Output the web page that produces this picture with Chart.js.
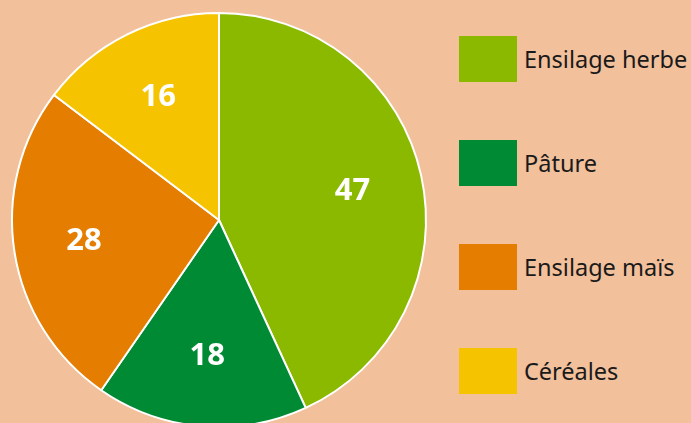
<!DOCTYPE html>
<html lang="fr">
<head>
<meta charset="utf-8">
<script src="https://cdn.jsdelivr.net/npm/chart.js@4/dist/chart.umd.min.js"></script>
<style>
  html, body { margin: 0; padding: 0; background: #f2c09a; }
  #wrap { position: relative; width: 691px; height: 423px; overflow: hidden; background: #f2c09a; }
  #box { position: absolute; left: 0; top: 0; width: 438px; height: 423px; }
  #leg { position: absolute; left: 459px; top: 36px; font-family: "Noto Sans", "Open Sans", sans-serif; }
  #leg .it { position: absolute; left: 0; height: 46px; display: flex; align-items: center; white-space: nowrap; }
  #leg .sq { width: 58px; height: 46px; margin-right: 7px; flex: none; }
  #leg .tx { font-size: 23.5px; color: #1a1a1a; }
</style>
</head>
<body>
<div id="wrap">
  <div id="box"><canvas id="g-pie"></canvas></div>
  <div id="leg"></div>
</div>
<script>
(function () {
  "use strict";
  var $ = function (id) { return document.getElementById(id); };

  // Données
  var categories = ["Ensilage herbe", "Pâture", "Ensilage maïs", "Céréales"];
  var valeurs = [47, 18, 28, 16];
  var couleurs = ["#8bb900", "#008a33", "#e47d00", "#f6c300"];

  // Étiquettes blanches au milieu des parts
  var etiquettes = {
    id: "etiquettes",
    afterDatasetsDraw: function (chart) {
      var ctx = chart.ctx, meta = chart.getDatasetMeta(0);
      ctx.save();
      ctx.fillStyle = "#fff";
      ctx.font = "bold 31px 'Noto Sans', 'Open Sans', sans-serif";
      ctx.textAlign = "center";
      ctx.textBaseline = "middle";
      meta.data.forEach(function (arc, i) {
        var p = arc.getProps(["x", "y", "startAngle", "endAngle", "outerRadius"], true);
        var a = (p.startAngle + p.endAngle) / 2, r = p.outerRadius * 0.66;
        ctx.fillText(String(valeurs[i]), p.x + Math.cos(a) * r, p.y + Math.sin(a) * r);
      });
      ctx.restore();
    }
  };

  new Chart($("g-pie"), {
    type: "pie",
    data: { labels: categories, datasets: [{ data: valeurs, backgroundColor: couleurs, borderColor: "#fff", borderWidth: 2 }] },
    options: {
      responsive: true, maintainAspectRatio: false, animation: false,
      radius: 207,
      layout: { padding: { top: 17 } },
      plugins: { legend: { display: false }, tooltip: { enabled: false } }
    },
    plugins: [etiquettes]
  });

  // Légende
  var html = "";
  categories.forEach(function (c, i) {
    html += '<div class="it" style="top:' + (i * 104) + 'px"><span class="sq" style="background:' + couleurs[i] + '"></span><span class="tx">' + c + "</span></div>";
  });
  $("leg").innerHTML = html;
})();
</script>
</body>
</html>
